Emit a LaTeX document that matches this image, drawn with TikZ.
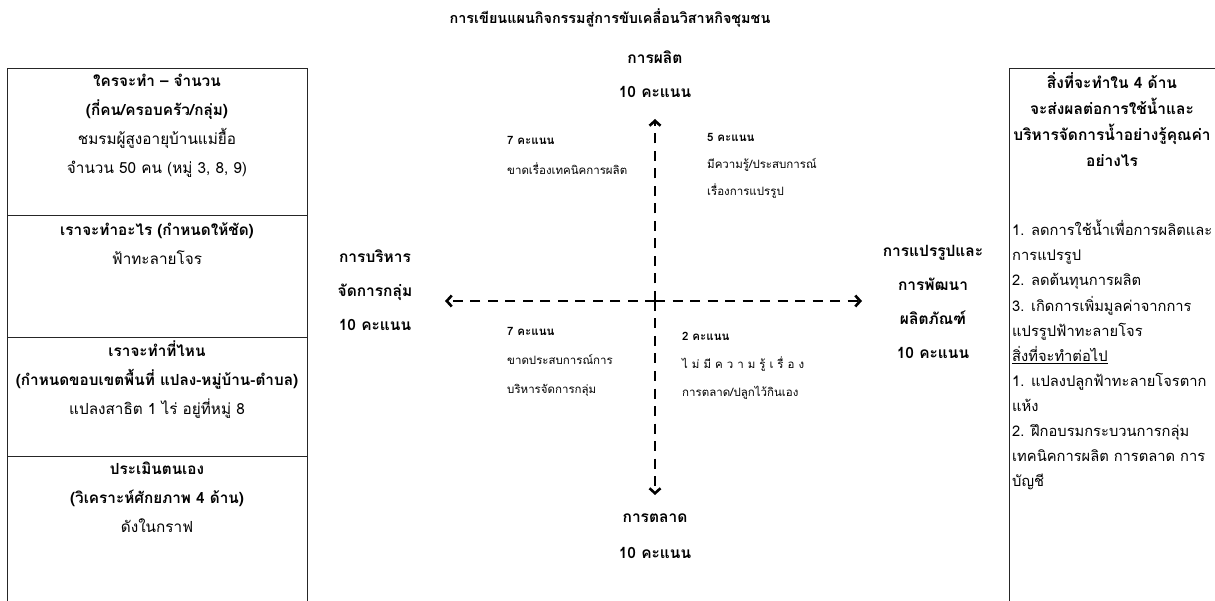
\documentclass[tikz,border=0pt]{standalone}
\usepackage{fontspec}
\setmainfont[Script=Thai]{Loma}
\usetikzlibrary{arrows.meta}
\newcommand{\fs}[2]{\fontsize{#1}{#2}\selectfont}
\newcommand{\lsp}{\hspace{4pt}}
\begin{document}
\begin{tikzpicture}[x=1pt,y=-1pt,
  boxframe/.style={draw=black!85,line width=1pt,inner sep=0pt,anchor=north west},
  bigtxt/.style={font=\fs{15.3}{29},align=center,inner sep=0pt,anchor=north},
  lbl/.style={font=\bfseries\fs{15.5}{34},align=center,inner sep=0pt,anchor=north},
  small/.style={font=\fs{11.5}{29},align=left,inner sep=0pt,anchor=north west},
  axis/.style={line width=2.6pt,dash pattern=on 10pt off 7.5pt,-{Straight Barb[length=5pt,width=11pt]}}]
\useasboundingbox (0,0) rectangle (1215,601);
\clip (0,0) rectangle (1215,601);
\fill[white] (0,0) rectangle (1215,601);
% title
\node[font=\bfseries\fs{14.4}{16},inner sep=0pt] (title) at (610,18) {การเขียนแผนกิจกรรมสู่การขับเคลื่อนวิสาหกิจชุมชน};
% left boxes
\node[boxframe,minimum width=300pt,minimum height=147pt] (b1) at (7,68) {};
\node[boxframe,minimum width=300pt,minimum height=122pt] (b2) at (7,215) {};
\node[boxframe,minimum width=300pt,minimum height=119pt] (b3) at (7,337) {};
\node[boxframe,minimum width=300pt,minimum height=170pt] (b4) at (7,456) {};
\node[bigtxt] (t1) at (157,74) {\textbf{ใครจะทำ – จำนวน}\\\textbf{(กี่คน/ครอบครัว/กลุ่ม)}\\ชมรมผู้สูงอายุบ้านแม่ยื้อ\\จำนวน 50 คน (หมู่ 3, 8, 9)};
\node[bigtxt] (t2) at (157,223) {\textbf{เราจะทำอะไร (กำหนดให้ชัด)}\\ฟ้าทะลายโจร};
\node[bigtxt] (t3) at (157,341) {\textbf{เราจะทำที่ไหน}\\\textbf{(กำหนดขอบเขตพื้นที่ แปลง-หมู่บ้าน-ตำบล)}\\แปลงสาธิต 1 ไร่ อยู่ที่หมู่ 8};
\node[bigtxt] (t4) at (157,462) {\textbf{ประเมินตนเอง}\\\textbf{(วิเคราะห์ศักยภาพ 4 ด้าน)}\\ดังในกราฟ};
% right box
\node[boxframe,minimum width=240pt,minimum height=560pt] (rb) at (1009,68) {};
\node[bigtxt,font=\bfseries\fs{15.5}{26}] (rh) at (1112,72) {สิ่งที่จะทำใน 4 ด้าน\\จะส่งผลต่อการใช้น้ำและ\\บริหารจัดการน้ำอย่างรู้คุณค่า\\อย่างไร};
\node[bigtxt,font=\fs{14.7}{25.1},align=left,anchor=north west] (rl) at (1012,220) {1. ลดการใช้น้ำเพื่อการผลิตและ\\การแปรรูป\\2. ลดต้นทุนการผลิต\\3. เกิดการเพิ่มมูลค่าจากการ\\แปรรูปฟ้าทะลายโจร\\\underline{สิ่งที่จะทำต่อไป}\\1. แปลงปลูกฟ้าทะลายโจรตาก\\แห้ง\\2. ฝึกอบรมกระบวนการกลุ่ม\\เทคนิคการผลิต การตลาด การ\\บัญชี};
% axes
\coordinate (c) at (655,301);
\coordinate (ntip) at (655,119);
\coordinate (stip) at (655,495);
\coordinate (wtip) at (445,301);
\coordinate (etip) at (862,301);
\draw[axis] (c) -- (ntip);
\draw[axis] (c) -- (stip);
\draw[axis] (c) -- (wtip);
\draw[axis] (c) -- (etip);
% axis labels
\node[lbl] (ltop) at (655,51) {การผลิต\\10 คะแนน};
\node[lbl,font=\bfseries\fs{15.5}{36}] (lbot) at (655,514) {การตลาด\\10 คะแนน};
\node[lbl] (lleft) at (375,250) {การบริหาร\\จัดการกลุ่ม\\10 คะแนน};
\node[lbl] (lright) at (933,245) {การแปรรูปและ\\การพัฒนา\\ผลิตภัณฑ์\\10 คะแนน};
% quadrant notes
\node[small,font=\fs{11.5}{30}] (q1) at (507,136) {\textbf{7 คะแนน}\\ขาดเรื่องเทคนิคการผลิต};
\node[small,font=\fs{11.5}{27}] (q2) at (707,133) {\textbf{5 คะแนน}\\มีความรู้/ประสบการณ์\\เรื่องการแปรรูป};
\node[small] (q3) at (507,327) {\textbf{7 คะแนน}\\ขาดประสบการณ์การ\\บริหารจัดการกลุ่ม};
\node[small,font=\fs{11.5}{28}] (q4) at (682,332) {\textbf{2 คะแนน}\\ไ\lsp ม่\lsp มี\lsp ค\lsp ว\lsp า\lsp ม\lsp รู้\lsp เ\lsp รื่\lsp อ\lsp ง\\การตลาด/ปลูกไว้กินเอง};
\end{tikzpicture}
\end{document}
